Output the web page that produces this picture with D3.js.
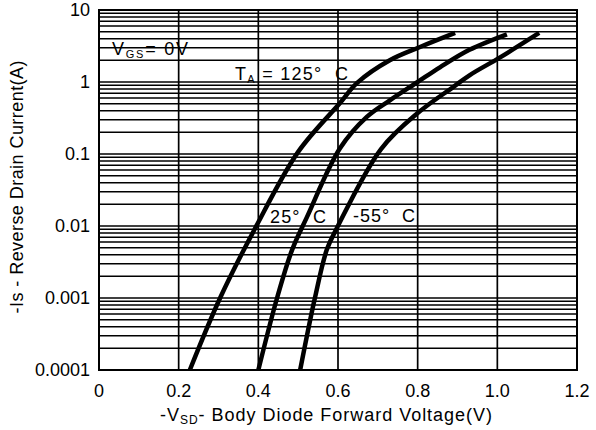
<!DOCTYPE html>
<html lang="en">
<head>
    <meta charset="utf-8">
    <title>Body Diode Forward Voltage</title>
    <script type="text/javascript" src="https://d3js.org/d3.v7.min.js"></script>
    <style>
        body{ margin:0; background:#fff; font-family: "Liberation Sans", Arial, sans-serif;}
    </style>
</head>
<body>
    <div class="chart"></div>
    <script type="text/javascript">
        // axis ticks
        const xTicks = [0, 0.2, 0.4, 0.6, 0.8, 1.0, 1.2];
        const xTickLabels = ["0", "0.2", "0.4", "0.6", "0.8", "1.0", "1.2"];
        const yTicks = [0.0001, 0.001, 0.01, 0.1, 1, 10];
        const yTickLabels = ["0.0001", "0.001", "0.01", "0.1", "1", "10"];

        // curves: -Vsd (V) and -Is (A)
        const vsd125 = [0.228, 0.304, 0.392, 0.50, 0.605, 0.648, 0.73, 0.806, 0.894];
        const is125  = [0.0001, 0.001, 0.0093, 0.107, 0.51, 0.97, 2.0, 3.06, 4.8];
        const vsd25  = [0.40, 0.447, 0.485, 0.522, 0.605, 0.673, 0.731, 0.80, 0.856, 0.93, 1.024];
        const is25   = [0.0001, 0.001, 0.0047, 0.0133, 0.12, 0.33, 0.56, 1.0, 1.6, 2.8, 4.6];
        const vsdM55 = [0.505, 0.542, 0.572, 0.597, 0.708, 0.80, 0.889, 0.931, 1.007, 1.105];
        const isM55  = [0.0001, 0.001, 0.0047, 0.0093, 0.117, 0.37, 0.85, 1.25, 2.2, 4.8];

        const margin = ({top: 10, right: 19, bottom: 60, left: 99});
        const W = 596, H = 430;
        const w = W - margin.left - margin.right;
        const h = H - margin.top - margin.bottom;

        const xScale = d3.scaleLinear().domain([0, 1.2]).range([0, w]);
        const yScale = d3.scaleLog().domain([0.0001, 10]).range([h, 0]);

        const svg = d3.select('.chart').append('svg')
            .attr('width', W).attr('height', H)
            .style('font-family', '"Liberation Sans", Arial, sans-serif');
        const g = svg.append('g')
            .attr('transform', `translate(${margin.left},${margin.top})`);

        // horizontal grid: 1..9 in each decade
        const hLines = [];
        for (let e = -4; e < 1; e++) {
            for (let m = 1; m < 10; m++) hLines.push(m * Math.pow(10, e));
        }
        hLines.push(10);
        g.selectAll('.hgrid').data(hLines).enter().append('line')
            .attr('class', 'hgrid')
            .attr('x1', 0).attr('x2', w)
            .attr('y1', d => yScale(d)).attr('y2', d => yScale(d))
            .attr('stroke', '#000').attr('stroke-width', 1.5);

        g.selectAll('.vgrid').data(xTicks).enter().append('line')
            .attr('class', 'vgrid')
            .attr('x1', d => xScale(d)).attr('x2', d => xScale(d))
            .attr('y1', 0).attr('y2', h)
            .attr('stroke', '#000').attr('stroke-width', 1.7);

        g.append('rect')
            .attr('x', 0).attr('y', 0).attr('width', w).attr('height', h)
            .attr('fill', 'none').attr('stroke', '#000').attr('stroke-width', 2);

        // tick labels
        g.selectAll('.xlab').data(xTicks).enter().append('text')
            .attr('x', d => xScale(d)).attr('y', h + 27)
            .attr('text-anchor', 'middle').attr('font-size', 18)
            .text((d, i) => xTickLabels[i]);

        g.selectAll('.ylab').data(yTicks).enter().append('text')
            .attr('x', -9).attr('y', d => yScale(d) + 6)
            .attr('text-anchor', 'end').attr('font-size', 18)
            .text((d, i) => yTickLabels[i]);

        // curves
        const line = d3.line()
            .x(d => xScale(d[0])).y(d => yScale(d[1]))
            .curve(d3.curveCatmullRom.alpha(0.5));
        const series = [
            d3.zip(vsd125, is125),
            d3.zip(vsd25, is25),
            d3.zip(vsdM55, isM55)
        ];
        g.selectAll('.curve').data(series).enter().append('path')
            .attr('class', 'curve')
            .attr('d', line)
            .attr('fill', 'none').attr('stroke', '#000')
            .attr('stroke-width', 4.5).attr('stroke-linecap', 'butt');

        // annotations
        const vgs = svg.append('text').attr('x', 112).attr('y', 55).attr('font-size', 18)
            .attr('textLength', 76).attr('lengthAdjust', 'spacing');
        vgs.append('tspan').text('V');
        vgs.append('tspan').attr('font-size', 11).attr('dy', 3).text('GS');
        vgs.append('tspan').attr('dy', -3).text('= 0V');

        const ta = svg.append('text').attr('x', 235).attr('y', 80).attr('font-size', 18)
            .attr('textLength', 113).attr('lengthAdjust', 'spacing');
        ta.append('tspan').text('T');
        ta.append('tspan').attr('font-size', 11).attr('dy', 3).text('A');
        ta.append('tspan').attr('dy', -3).text(' = 125°\u00a0 C');

        svg.append('text').attr('x', 270).attr('y', 223).attr('font-size', 18)
            .attr('textLength', 56).attr('lengthAdjust', 'spacing')
            .text('25°\u00a0 C');
        svg.append('text').attr('x', 353).attr('y', 222).attr('font-size', 18)
            .attr('textLength', 62).attr('lengthAdjust', 'spacing')
            .text('-55°\u00a0 C');

        // axis titles
        const xt = svg.append('text')
            .attr('x', 160).attr('y', 421).attr('font-size', 18)
            .attr('textLength', 332).attr('lengthAdjust', 'spacing');
        xt.append('tspan').text('-V');
        xt.append('tspan').attr('font-size', 12).attr('dy', 3).text('SD');
        xt.append('tspan').attr('dy', -3).text('- Body Diode Forward Voltage(V)');

        svg.append('text')
            .attr('transform', 'translate(23,187) rotate(-90)')
            .attr('text-anchor', 'middle').attr('font-size', 18)
            .attr('textLength', 253).attr('lengthAdjust', 'spacing')
            .text('-Is - Reverse Drain Current(A)');
    </script>
</body>
</html>
